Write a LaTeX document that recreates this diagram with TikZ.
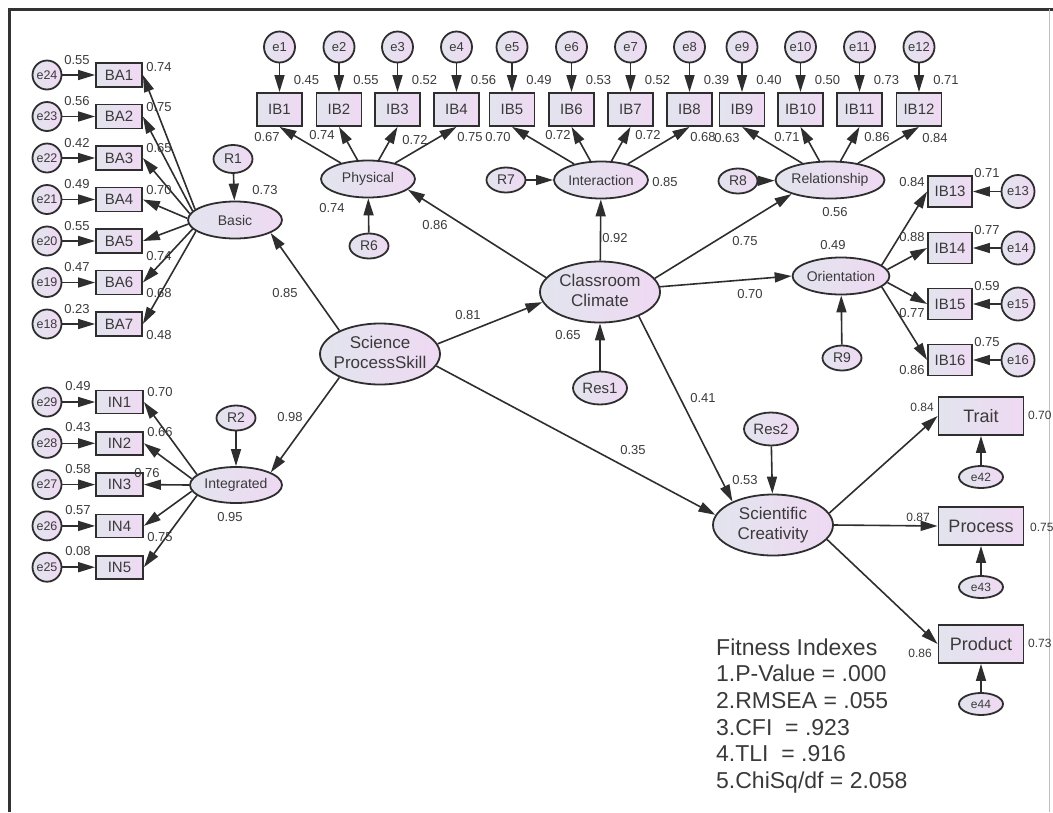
\documentclass[tikz,border=0pt]{standalone}
\usepackage{fontspec}
\setmainfont{Liberation Sans}
\usetikzlibrary{shapes.geometric,arrows.meta}
\definecolor{ink}{HTML}{2E2E2E}
\definecolor{txt}{HTML}{3A3A3A}
\definecolor{fillL}{HTML}{E2E4EE}
\definecolor{fillR}{HTML}{EFD9F2}
\newcommand{\ctrtxt}[1]{\makebox[0pt]{\begin{tabular}{@{}c@{}}#1\end{tabular}}}
\tikzset{
  fs/.style={font=\fontsize{#1}{#1}\selectfont},
  nd/.style={draw=ink, line width=1.8pt, inner sep=0pt, left color=fillL, right color=fillR, text=txt},
  obs/.style={nd, rectangle, minimum width=45pt, minimum height=33pt, fs=15},
  smallobs/.style={nd, rectangle, minimum width=46pt, minimum height=24pt, fs=15},
  bigobs/.style={nd, rectangle, minimum width=85pt, minimum height=38pt, fs=18},
  err/.style={nd, circle, minimum size=31pt, fs=13},
  serr/.style={nd, circle, minimum size=29pt, fs=12.5},
  lat/.style={nd, ellipse, minimum width=94pt, minimum height=37pt, fs=14},
  biglat/.style={nd, ellipse, minimum width=120pt, minimum height=61pt, font=\fontsize{17}{20}\selectfont},
  res/.style={nd, ellipse, minimum width=39pt, minimum height=25pt, fs=14},
  bres/.style={nd, ellipse, minimum width=54pt, minimum height=33pt, fs=15},
  eres/.style={nd, ellipse, minimum width=44pt, minimum height=22pt, fs=12},
  lbl/.style={inner sep=0pt, text=txt, fs=13},
  slbl/.style={inner sep=0pt, text=txt, fs=12},
  arr/.style={draw=ink, line width=1.6pt, -{Triangle[length=17pt,width=10pt]}},
  fitline/.style={inner sep=0pt, anchor=base west, text=txt, fs=23},
}
\begin{document}
\begin{tikzpicture}[x=1pt,y=-1pt]
\useasboundingbox (0,0) rectangle (1053,812);
% frame
\draw[line width=3pt, draw=black!80] (9,812) -- (9,9) -- (1053,9);
\draw[line width=0.8pt, draw=black!25] (1049,9) -- (1049,812);

% latent variables
\node[lat] (Basic) at (235,220) {Basic};
\node[lat, minimum width=92pt, minimum height=36pt] (Integ) at (236,485) {Integrated};
\node[lat] (Phys) at (368,179) {Physical};
\node[lat] (Inter) at (601,180) {Interaction};
\node[lat] (Rel) at (830,180) {Relationship};
\node[lat] (Ori) at (841,276) {Orientation};
\node[biglat] (CC) at (600,292) {\ctrtxt{Classroom\\Climate}};
\node[biglat] (SPS) at (380,354) {\ctrtxt{Science\\ProcessSkill}};
\node[biglat] (SC) at (773,525) {\ctrtxt{Scientific\\Creativity}};

% residuals
\node[res, minimum height=28pt] (R1) at (233,159) {R1};
\node[res] (R2) at (236,418) {R2};
\node[res] (R6) at (369,246) {R6};
\node[res] (R7) at (506,180) {R7};
\node[res] (R8) at (738,181) {R8};
\node[res] (R9) at (842,358) {R9};
\node[bres] (Res1) at (600,388) {Res1};
\node[bres] (Res2) at (771,429) {Res2};
\draw[arr] (R1) -- (Basic);
\draw[arr] (R2) -- (Integ);
\draw[arr] (R6) -- (Phys);
\draw[arr] (R7) -- (Inter);
\draw[arr] (R8) -- (Rel);
\draw[arr] (R9) -- (Ori);
\draw[arr] (Res1) -- (CC);
\draw[arr] (Res2) -- (SC);

% BA block
\foreach \i/\r/\l/\ly/\a in {1/0.55/0.74/67/165, 2/0.56/0.75/107/168, 3/0.42/0.65/148/172, 4/0.49/0.70/190/178, 5/0.55/0.74/256/185, 6/0.47/0.68/293/192, 7/0.23/0.48/335/196}{
  \pgfmathsetmacro\yy{75+41.5*(\i-1)}
  \pgfmathtruncatemacro\en{25-\i}
  \node[smallobs] (BA\i) at (119,\yy) {BA\i};
  \node[serr] (e\en) at (47,\yy) {e\en};
  \draw[arr] (e\en) -- (BA\i);
  \node[lbl] at (77,\yy-15) {\r};
  \node[lbl] at (159,\ly) {\l};
  \draw[arr] (Basic.\a) -- (BA\i.east);
}

% IN block
\foreach \i/\r/\a in {1/0.49/165, 2/0.43/172, 3/0.58/180, 4/0.57/188, 5/0.08/195}{
  \pgfmathsetmacro\yy{402+41.3*(\i-1)}
  \pgfmathtruncatemacro\en{30-\i}
  \node[smallobs, minimum width=47pt, minimum height=23pt] (IN\i) at (119.5,\yy) {IN\i};
  \node[serr] (e\en) at (47,\yy) {e\en};
  \draw[arr] (e\en) -- (IN\i);
  \node[lbl] at (78,\yy-16) {\r};
  \draw[arr] (Integ.\a) -- (IN\i.east);
}
\node[lbl] at (160,392) {0.70};
\node[lbl] at (160,432) {0.66};
\node[lbl] at (147,473) {0.76};
\node[lbl] at (160,537) {0.75};

% top IB row
\foreach \i/\x/\r/\l/\lx/\ly in {
1/279.5/0.45/0.67/267/137,
2/339/0.55/0.74/322/135,
3/397.5/0.52/0.72/415/140,
4/456.5/0.56/0.75/470/137,
5/512/0.49/0.70/498/137,
6/571.5/0.53/0.72/558/135,
7/630.5/0.52/0.72/648/135,
8/689.5/0.39/0.68/703/137,
9/742/0.40/0.63/727/138,
10/800.5/0.50/0.71/787/137,
11/859.5/0.73/0.86/877/137,
12/919/0.71/0.84/935/138}{
  \node[obs] (IB\i) at (\x,109.5) {IB\i};
  \node[err] (e\i) at (\x,47) {e\i};
  \draw[arr] (e\i) -- (IB\i);
  \node[lbl] at (\x+27,80) {\r};
  \node[lbl] at (\lx,\ly) {\l};
}
\foreach \i in {1,2,3,4}{\draw[arr] (Phys) -- (IB\i.south);}
\foreach \i in {5,6,7,8}{\draw[arr] (Inter) -- (IB\i.south);}
\foreach \i in {9,10,11,12}{\draw[arr] (Rel) -- (IB\i.south);}

% right IB column
\foreach \i/\y/\r/\l/\ly/\a in {13/191.5/0.71/0.84/182/15, 14/248/0.77/0.88/237/8, 15/304/0.59/0.77/313/-8, 16/360/0.75/0.86/370/-15}{
  \node[obs, minimum width=44pt, minimum height=31pt] (IB\i) at (950,\y) {IB\i};
  \node[err, minimum size=33pt] (e\i) at (1018,\y) {e\i};
  \draw[arr] (e\i) -- (IB\i);
  \node[lbl] at (987,\y-18) {\r};
  \node[lbl] at (912,\ly) {\l};
  \draw[arr] (Ori.\a) -- (IB\i.west);
}

% creativity indicators
\node[bigobs] (Trait) at (981,416) {Trait};
\node[bigobs] (Proc) at (981,526) {Process};
\node[bigobs] (Prod) at (981,644) {Product};
\node[eres] (e42) at (981,477) {e42};
\node[eres] (e43) at (981,587) {e43};
\node[eres] (e44) at (981,704) {e44};
\draw[arr] (e42) -- (Trait);
\draw[arr] (e43) -- (Proc);
\draw[arr] (e44) -- (Prod);
\draw[arr] (SC.12) -- (Trait.west);
\draw[arr] (SC.east) -- (Proc.west);
\draw[arr] (SC.-15) -- (Prod.west);
\node[slbl] at (922,407) {0.84};
\node[slbl] at (918,517) {0.87};
\node[slbl] at (920,653) {0.86};
\node[slbl, anchor=west] at (1028,415) {0.70};
\node[slbl, anchor=west] at (1030,527) {0.75};
\node[slbl, anchor=west] at (1028,643) {0.73};

% structural paths
\draw[arr] (SPS.150) -- (Basic.-20);
\draw[arr] (SPS.210) -- (Integ.20);
\draw[arr] (SPS.10) -- (CC.190);
\draw[arr] (SPS.-12) -- (SC.170);
\draw[arr] (CC.165) -- (Phys.-15);
\draw[arr] (CC) -- (Inter);
\draw[arr] (CC.14) -- (Rel.200);
\draw[arr] (CC.5) -- (Ori.180);
\draw[arr] (CC.-32) -- (SC.150);

% structural labels
\node[lbl] at (265,190) {0.73};
\node[lbl] at (285,293) {0.85};
\node[lbl] at (290,417) {0.98};
\node[lbl] at (230,517) {0.95};
\node[lbl] at (332,208) {0.74};
\node[lbl] at (435,225) {0.86};
\node[lbl] at (665,182) {0.85};
\node[lbl] at (615,238) {0.92};
\node[lbl] at (835,212) {0.56};
\node[lbl] at (745,241) {0.75};
\node[lbl] at (833,245) {0.49};
\node[lbl] at (750,294) {0.70};
\node[lbl] at (568,335) {0.65};
\node[lbl] at (468,315) {0.81};
\node[lbl] at (703,398) {0.41};
\node[lbl] at (633,450) {0.35};
\node[lbl] at (745,480) {0.53};

% fit indexes
\node[fitline] (f1) at (716,655) {Fitness Indexes};
\node[fitline] (f2) at (716,681) {1.P-Value = .000};
\node[fitline] (f3) at (716,708) {2.RMSEA = .055};
\node[fitline] (f4) at (716,735) {3.CFI\ \ = .923};
\node[fitline] (f5) at (716,761) {4.TLI\ \ = .916};
\node[fitline] (f6) at (716,788) {5.ChiSq/df = 2.058};
\end{tikzpicture}
\end{document}
